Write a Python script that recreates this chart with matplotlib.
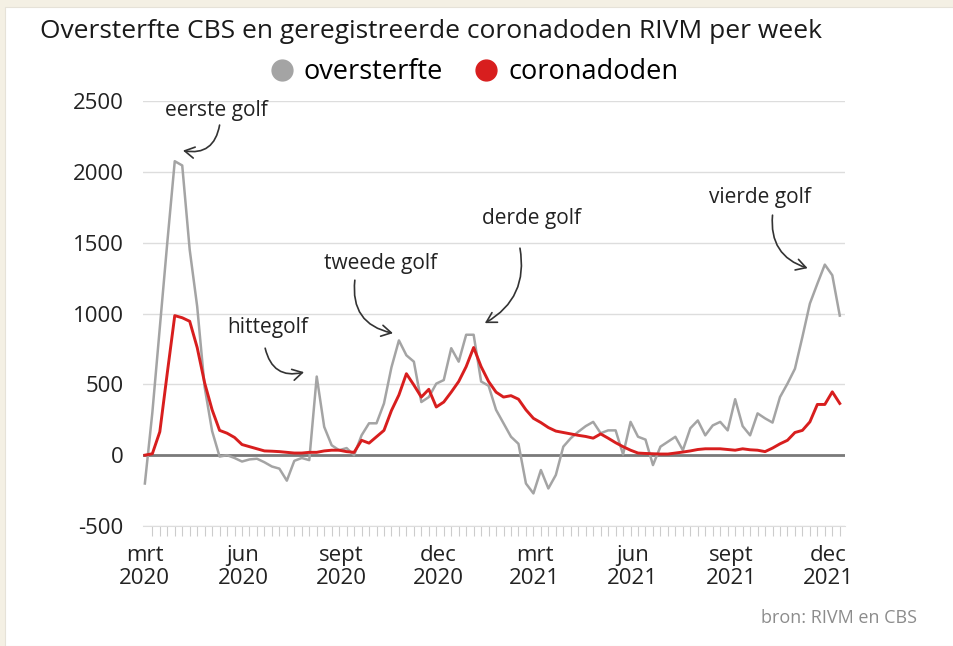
import pandas as pd
import matplotlib.pyplot as plt
import matplotlib.dates as mdates
from matplotlib.lines import Line2D
from matplotlib.patches import Rectangle
from matplotlib.ticker import FuncFormatter

plt.rcParams['font.family'] = ['Open Sans', 'DejaVu Sans']
plt.rcParams['axes.unicode_minus'] = False

# Weken vanaf begin maart 2020
weeks = pd.date_range('2020-03-01', periods=94, freq='7D')

oversterfte = [
    -200, 300, 900, 1500, 2075, 2045, 1450, 1050, 480, 170,
    -10, 0, -20, -45, -30, -25, -50, -80, -95, -180,
    -40, -20, -35, 555, 200, 70, 35, 50, 0, 140,
    225, 225, 365, 620, 810, 705, 660, 375, 410, 505,
    530, 755, 660, 850, 850, 520, 490, 320, 225, 130,
    80, -200, -270, -105, -235, -140, 60, 120, 165, 205,
    235, 155, 175, 175, 5, 235, 130, 110, -70, 60,
    95, 130, 35, 190, 245, 140, 210, 235, 175, 395,
    205, 140, 295, 260, 230, 410, 505, 610, 835, 1070,
    1210, 1345, 1270, 985,
]

coronadoden = [
    0, 10, 165, 580, 985, 970, 945, 760, 510, 320,
    175, 155, 125, 75, 60, 45, 30, 28, 25, 20,
    15, 15, 20, 20, 30, 35, 35, 25, 20, 105,
    85, 130, 175, 315, 425, 575, 495, 410, 465, 340,
    375, 445, 520, 625, 760, 625, 520, 445, 410, 420,
    395, 320, 260, 230, 195, 170, 160, 150, 140, 132,
    120, 150, 120, 88, 60, 35, 15, 12, 10, 8,
    8, 15, 22, 30, 40, 45, 45, 45, 40, 35,
    45, 38, 35, 25, 50, 80, 105, 160, 175, 235,
    358, 358, 447, 365,
]

month_names = {3: 'mrt', 6: 'jun', 9: 'sept', 12: 'dec'}
y_ticks = [-500, 0, 500, 1000, 1500, 2000, 2500]

# (tekst, tekstpositie in weken/waarde, pijl start, pijl eind, kromming)
annotations = [
    ('eerste golf', (9.6, 2436), (10.0, 2330), (5.1, 2150), -0.5),
    ('hittegolf', (16.4, 904), (16.1, 755), (21.3, 586), 0.5),
    ('tweede golf', (31.6, 1356), (28.1, 1235), (33.2, 861), 0.45),
    ('derde golf', (51.8, 1673), (50.2, 1461), (45.5, 932), -0.35),
    ('vierde golf', (82.3, 1821), (84.0, 1694), (88.7, 1320), 0.4),
]

GRAY = '#a4a4a4'
RED = '#d81e1e'


def wk(k):
    # fractionele weekindex -> datumgetal
    return mdates.date2num(weeks[0]) + 7 * k


fig = plt.figure(figsize=(9.54, 6.46), dpi=100)
fig.patch.set_facecolor('#f4f0e4')
fig.add_artist(Rectangle((5 / 954, 0), 1, 1 - 7 / 646,
                         transform=fig.transFigure, facecolor='white',
                         edgecolor='#e6e2d8', lw=0.8, zorder=-1))

ax = fig.add_axes([143 / 954, 1 - 526 / 646, (845 - 143) / 954, (526 - 101) / 646])
ax.set_facecolor('none')

ax.plot(weeks, oversterfte, color=GRAY, lw=1.8, zorder=3)
ax.plot(weeks, coronadoden, color=RED, lw=2.1, zorder=4)
ax.axhline(0, color='#7a7a7a', lw=2, zorder=2)

ax.set_ylim(-500, 2500)
ax.set_xlim(wk(-0.25), wk(93.7))
ax.set_yticks(y_ticks)
ax.yaxis.grid(True, color='#dddddd', lw=1)
ax.set_axisbelow(True)
ax.tick_params(axis='y', length=0, pad=14, labelsize=16, labelcolor='#222222')

ax.xaxis.set_major_locator(mdates.MonthLocator(bymonth=[3, 6, 9, 12]))
ax.xaxis.set_major_formatter(FuncFormatter(
    lambda v, pos: f"{month_names[mdates.num2date(v).month]}\n{mdates.num2date(v).year}"))
ax.set_xticks(weeks, minor=True)
ax.tick_params(axis='x', which='major', length=0, pad=14, labelsize=16, labelcolor='#222222')
ax.tick_params(axis='x', which='minor', length=7, width=0.8, color='#cccccc')
for lbl in ax.get_xticklabels():
    lbl.set_linespacing(1.1)

for side in ['top', 'right', 'left']:
    ax.spines[side].set_visible(False)
ax.spines['bottom'].set_color('#dddddd')

for text, tpos, start, end, rad in annotations:
    ax.text(wk(tpos[0]), tpos[1], text, ha='center', va='center',
            fontsize=15, color='#222222')
    ax.annotate('', xy=(wk(end[0]), end[1]), xytext=(wk(start[0]), start[1]),
                arrowprops=dict(arrowstyle='->,head_length=0.7,head_width=0.4',
                                connectionstyle=f'arc3,rad={rad}',
                                color='#333333', lw=1.2, shrinkA=0, shrinkB=0))

fig.text(40 / 954, 1 - 32 / 646,
         'Oversterfte CBS en geregistreerde coronadoden RIVM per week',
         ha='left', va='center', fontsize=19, color='#1a1a1a')

handles = [
    Line2D([], [], marker='o', ls='', markersize=15, color=GRAY),
    Line2D([], [], marker='o', ls='', markersize=15, color=RED),
]
fig.legend(handles, ['oversterfte', 'coronadoden'], loc='center',
           bbox_to_anchor=(472 / 954, 1 - 72 / 646), ncol=2, frameon=False,
           fontsize=19.5, handletextpad=0.2, columnspacing=1.0, handlelength=1.2)

fig.text(917 / 954, 1 - 618 / 646, 'bron: RIVM en CBS', ha='right', va='center',
         fontsize=13, color='#8c8c8c')

fig.savefig('out.png', dpi=100, facecolor=fig.get_facecolor())
